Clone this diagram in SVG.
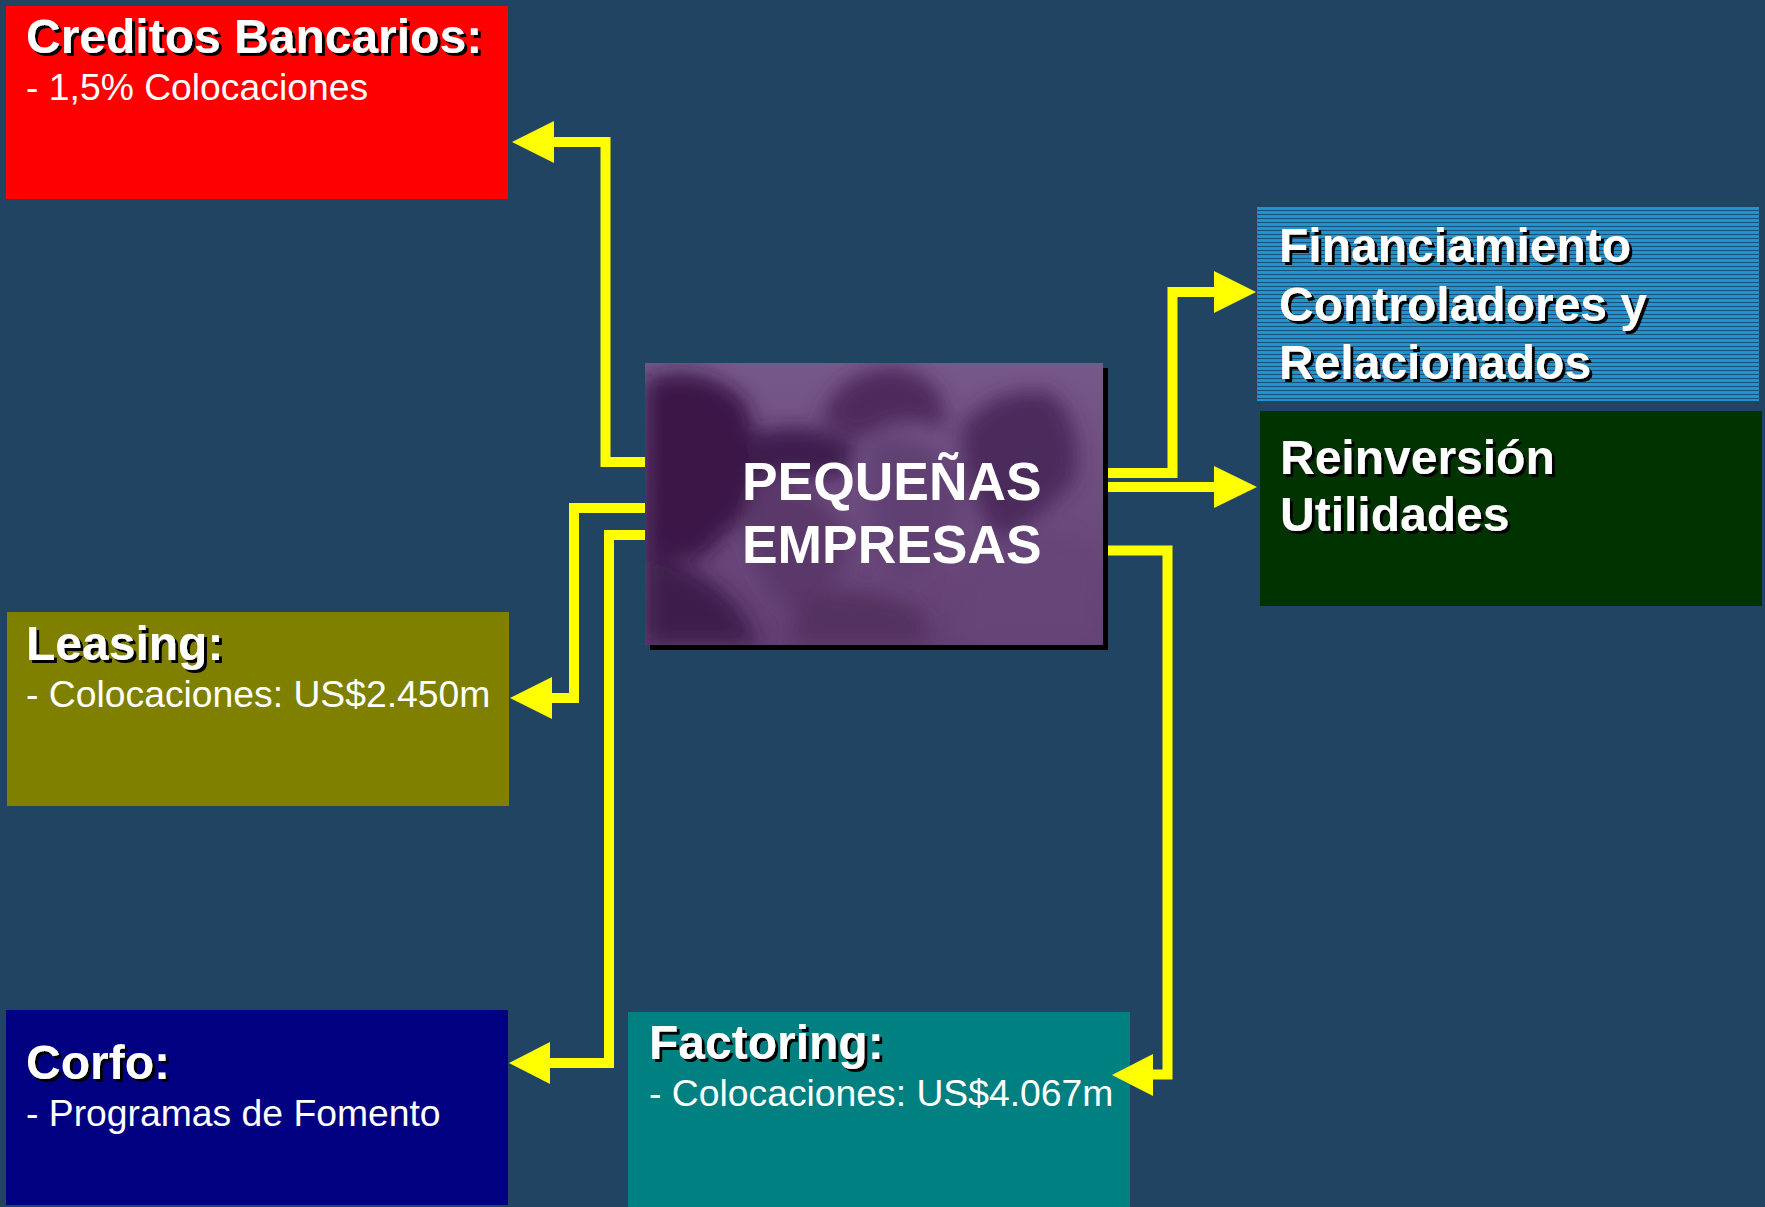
<svg xmlns="http://www.w3.org/2000/svg" width="1765" height="1207" viewBox="0 0 1765 1207">
<defs>
<style>
.title{font-family:"Liberation Sans",Arial,sans-serif;font-weight:bold;font-size:48px;fill:#ffffff;filter:url(#sh)}
.sub{font-family:"Liberation Sans",Arial,sans-serif;font-size:37.3px;fill:#ffffff}
.center{font-family:"Liberation Sans",Arial,sans-serif;font-weight:bold;font-size:53.4px;fill:#ffffff}
.conn{fill:none;stroke:#ffff00;stroke-width:10;stroke-linejoin:miter}
.head{fill:#ffff00}
</style>
<filter id="sh" x="-5%" y="-20%" width="115%" height="150%">
<feOffset in="SourceAlpha" dx="2.5" dy="2.5" result="o"/>
<feFlood flood-color="#000000"/>
<feComposite in2="o" operator="in" result="s"/>
<feMerge><feMergeNode in="s"/><feMergeNode in="SourceGraphic"/></feMerge>
</filter>
<filter id="blur" x="-30%" y="-30%" width="160%" height="160%">
<feGaussianBlur stdDeviation="10"/>
</filter>
<pattern id="stripes" patternUnits="userSpaceOnUse" x="0" y="207" width="8" height="4">
<rect width="8" height="4" fill="#1c96d0"/>
<rect y="3" width="8" height="1" fill="#1d4f74"/>
</pattern>
<linearGradient id="pg" x1="0" y1="0" x2="0" y2="1">
<stop offset="0" stop-color="#77588a"/>
<stop offset="1" stop-color="#623f73"/>
</linearGradient>
<clipPath id="pclip"><rect x="645" y="363" width="458" height="282"/></clipPath>
</defs>
<rect width="1765" height="1207" fill="#214462"/>

<g id="creditos">
<rect x="6" y="6" width="502" height="193" fill="#ff0000"/>
<text class="title" x="26" y="53">Creditos Bancarios:</text>
<text class="sub" x="26" y="100">- 1,5% Colocaciones</text>
</g>

<g id="leasing">
<rect x="7" y="612" width="502" height="194" fill="#808000"/>
<text class="title" x="26" y="660">Leasing:</text>
<text class="sub" x="26" y="707">- Colocaciones: US$2.450m</text>
</g>

<g id="corfo">
<rect x="6" y="1010" width="502" height="195" fill="#000080"/>
<text class="title" x="26" y="1079">Corfo:</text>
<text class="sub" x="26" y="1126">- Programas de Fomento</text>
</g>

<g id="factoring">
<rect x="628" y="1012" width="502" height="195" fill="#008080"/>
<text class="title" x="649" y="1059">Factoring:</text>
<text class="sub" x="649" y="1106">- Colocaciones: US$4.067m</text>
</g>

<g id="financiamiento">
<rect x="1257" y="207" width="502" height="194" fill="url(#stripes)"/>
<text class="title" x="1279" y="262">Financiamiento</text>
<text class="title" x="1279" y="321">Controladores y</text>
<text class="title" x="1279" y="379">Relacionados</text>
</g>

<g id="reinversion">
<rect x="1260" y="411" width="502" height="195" fill="#003300"/>
<text class="title" x="1280" y="474">Reinversión</text>
<text class="title" x="1280" y="531">Utilidades</text>
</g>

<g id="pequenas">
<rect x="650" y="368" width="458" height="282" fill="#000000"/>
<rect x="645" y="363" width="458" height="282" fill="url(#pg)"/>
<g clip-path="url(#pclip)" filter="url(#blur)">
<path d="M645 380 Q700 360 745 400 Q770 470 740 520 L700 560 L645 560 Z" fill="#3a1547"/>
<path d="M645 560 Q700 560 740 610 L760 645 L645 645 Z" fill="#3d1a4c"/>
<path d="M740 440 Q790 415 850 440 Q860 470 830 480 Q790 470 760 480 Z" fill="#3e1b4d"/>
<path d="M760 480 Q820 480 850 540 Q840 600 790 610 Q750 580 745 520 Z" fill="#5a3769"/>
<path d="M820 420 Q840 365 900 368 Q950 380 945 430 Q900 410 860 440 Z" fill="#4d295c"/>
<path d="M870 440 Q930 430 960 480 Q960 560 900 580 Q860 540 870 440 Z" fill="#614072"/>
<path d="M960 430 Q990 385 1050 392 Q1085 420 1075 480 Q1040 520 1000 540 Q965 500 960 430 Z" fill="#4c2a5c"/>
<path d="M990 540 Q1060 520 1103 560 L1103 645 L960 645 Q950 580 990 540 Z" fill="#664578"/>
<path d="M800 600 Q860 580 920 610 L930 645 L790 645 Z" fill="#52305f"/>
</g>
<text class="center" x="742" y="500">PEQUEÑAS</text>
<text class="center" x="742" y="563">EMPRESAS</text>
</g>

<g id="connectors">
<path class="conn" d="M645 462 H605.5 V142 H554"/>
<polygon class="head" points="554,121 512,142 554,163"/>
<path class="conn" d="M645 508 H574 V698 H552"/>
<polygon class="head" points="552,677 510,698 552,719"/>
<path class="conn" d="M645 535 H609 V1063 H550"/>
<polygon class="head" points="550,1042 509,1063 550,1084"/>
<path class="conn" d="M1108 473 H1172.5 V292 H1214"/>
<polygon class="head" points="1214,271 1256,292 1214,313"/>
<path class="conn" d="M1108 487 H1215"/>
<polygon class="head" points="1214,466 1257,487 1214,508"/>
<path class="conn" d="M1108 550.5 H1167.5 V1074.5 H1153"/>
<polygon class="head" points="1153,1054 1112,1075 1153,1096"/>
</g>
</svg>
